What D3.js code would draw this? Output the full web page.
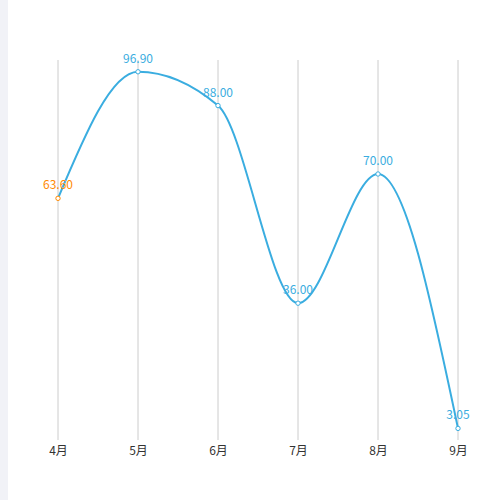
<!DOCTYPE html>
<html><head><meta charset="utf-8">
<script src="https://cdn.jsdelivr.net/npm/d3@7"></script>
<style>body{margin:0;background:#fff;font-family:"Noto Sans CJK SC","Noto Sans",sans-serif;}</style>
</head><body><div id="chart"></div>
<script>
const months = ["4月", "5月", "6月", "7月", "8月", "9月"];
const values = [63.6, 96.9, 88.0, 36.0, 70.0, 3.05];
const highlight = [true, false, false, false, false, false];

const width = 500, height = 500;
const blue = "#3aade0", orange = "#ff8a00";

const svg = d3.select("#chart").append("svg")
  .attr("width", width).attr("height", height);

// left strip
svg.append("rect").attr("x", 0).attr("y", 0).attr("width", 8).attr("height", height).attr("fill", "#f1f2f7");

const x = d3.scalePoint().domain(months).range([58, 458]);
const y = d3.scaleLinear().domain([0, 100]).range([440, 60]);

// vertical grid
svg.append("g").selectAll("line").data(months).join("line")
  .attr("x1", d => x(d)).attr("x2", d => x(d))
  .attr("y1", y(100)).attr("y2", y(0))
  .attr("stroke", "#cccccc").attr("stroke-width", 1);

// x axis labels
const xAxis = svg.append("g").attr("transform", `translate(0,${y(0)})`)
  .call(d3.axisBottom(x).tickSize(0).tickPadding(6));
xAxis.select(".domain").remove();
xAxis.selectAll("text").attr("font-size", 12).attr("fill", "#333")
  .attr("font-family", "'Noto Sans CJK SC',sans-serif");

const data = months.map((m, i) => ({ m, v: values[i], h: highlight[i] }));

svg.append("path").datum(data)
  .attr("fill", "none").attr("stroke", blue).attr("stroke-width", 2)
  .attr("d", d3.line().x(d => x(d.m)).y(d => y(d.v)).curve(d3.curveMonotoneX));

svg.append("g").selectAll("circle").data(data).join("circle")
  .attr("cx", d => x(d.m)).attr("cy", d => y(d.v)).attr("r", 2.2)
  .attr("fill", "#fff").attr("stroke", d => d.h ? orange : blue).attr("stroke-width", 1);

svg.append("g").selectAll("text").data(data).join("text")
  .attr("x", d => x(d.m)).attr("y", d => y(d.v) - 9)
  .attr("text-anchor", "middle").attr("font-size", 12)
  .attr("fill", d => d.h ? orange : blue)
  .text(d => d.v.toFixed(2));
</script></body></html>
